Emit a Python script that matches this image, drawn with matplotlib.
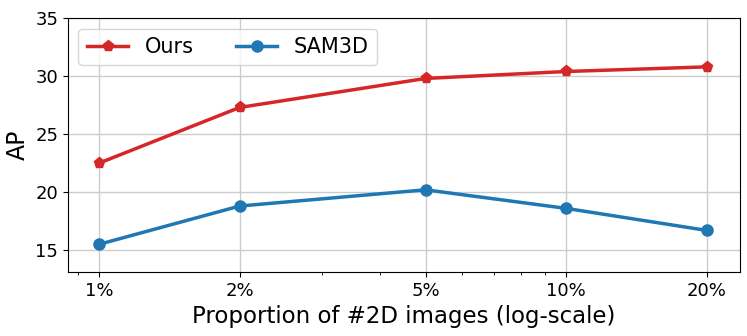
import matplotlib
matplotlib.use('Agg')
import matplotlib.pyplot as plt

props = [1, 2, 5, 10, 20]
tick_labels = ['1%', '2%', '5%', '10%', '20%']
ours = [22.5, 27.3, 29.8, 30.4, 30.8]
sam3d = [15.5, 18.8, 20.2, 18.6, 16.7]

fig = plt.figure(figsize=(7.47, 3.36), dpi=100)
ax = fig.add_axes([0.091, 0.19, 0.9, 0.756])
ax.plot(props, ours, marker='p', color='#d62728', lw=2.5, ms=8, label='Ours')
ax.plot(props, sam3d, marker='o', color='#1f77b4', lw=2.5, ms=8, label='SAM3D')
ax.set_xscale('log')
ax.set_xticks(props)
ax.set_xticklabels(tick_labels)
ax.set_xlim(0.858, 23.6)
ax.set_ylim(13.1, 35)
ax.set_yticks([15, 20, 25, 30, 35])
ax.tick_params(labelsize=13)
ax.grid(True, color='#cccccc', lw=1)
ax.set_axisbelow(True)
ax.set_xlabel('Proportion of #2D images (log-scale)', fontsize=16.5)
ax.set_ylabel('AP', fontsize=17)
ax.legend(loc='upper left', ncol=2, fontsize=15)
fig.savefig('out.png', dpi=100)
